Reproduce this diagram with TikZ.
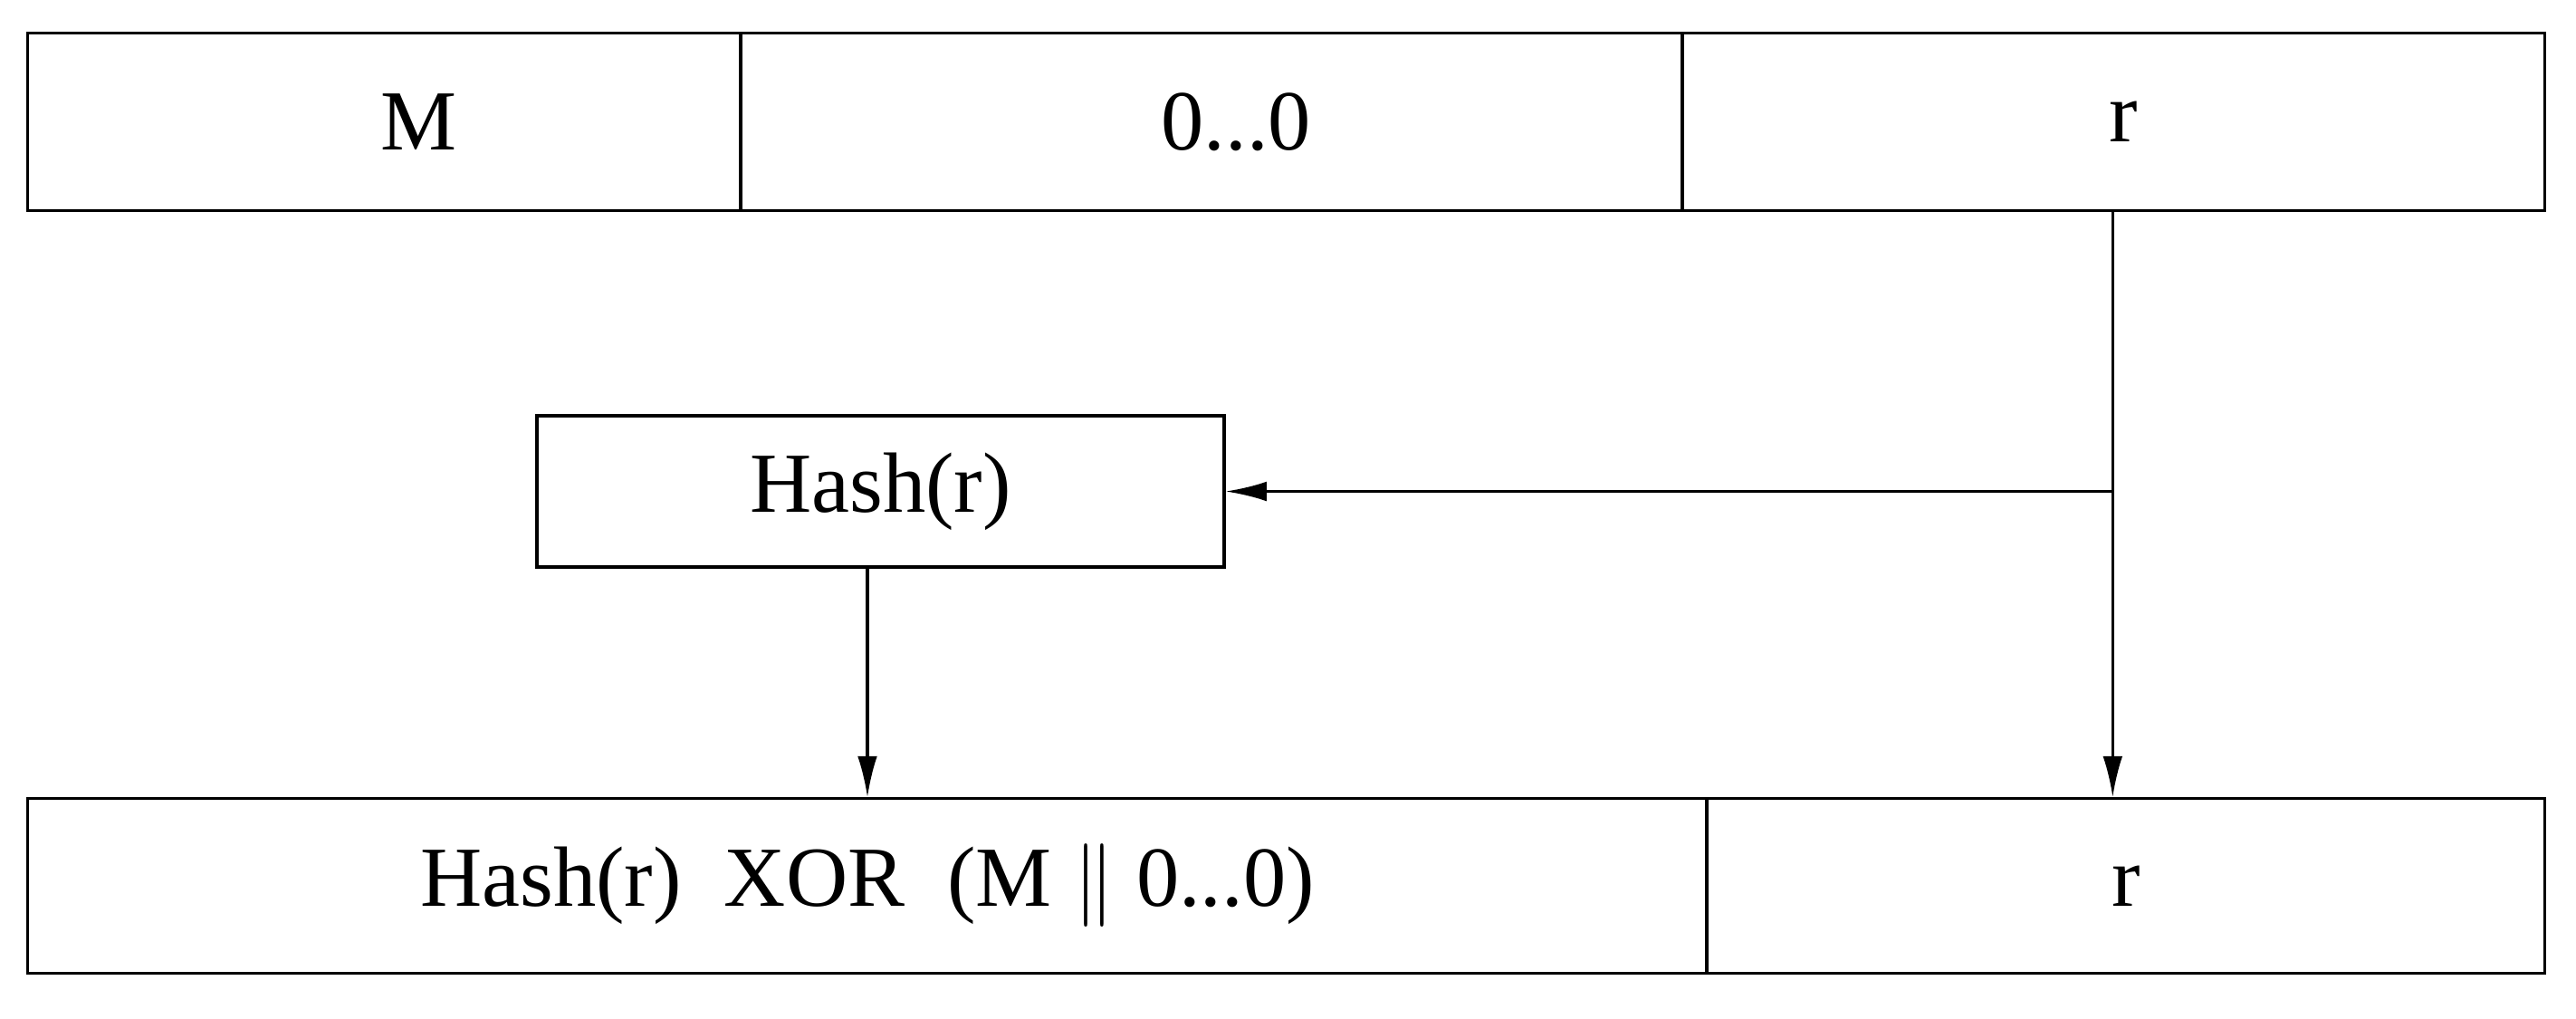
\documentclass[tikz,border=0pt]{standalone}
\usepackage{fontspec}
\setmainfont{Liberation Serif}
\usetikzlibrary{arrows.meta}
\begin{document}
\begin{tikzpicture}[x=0.01cm,y=0.01cm,
  every node/.style={draw=black, line width=0.5pt, inner sep=0pt, font=\fontsize{14.8}{17}\selectfont},
  arr/.style={line width=0.5pt, -{Latex[length=0.25cm,width=0.12cm]}}]
    \useasboundingbox (0,0) rectangle (1568,620);

    \node (M)   [minimum width=4.34cm, minimum height=1.08cm] at (234,546)    {\hspace{0.42cm}M};
    \node (Z)   [minimum width=5.73cm, minimum height=1.08cm] at (737.5,546)  {\hspace{0.3cm}0...0};
    \node (rt)  [minimum width=5.25cm, minimum height=1.08cm] at (1286.5,546) {\hspace{0.12cm}r};

    \node (hash)[minimum width=4.18cm, minimum height=0.92cm] at (536,321)    {Hash(r)};

    \node (xr)  [minimum width=10.22cm, minimum height=1.06cm] at (528,81)    {Hash(r)\ \ XOR\ \ (M $\Vert$ 0...0)\hspace{1.92cm}};
    \node (rb)  [minimum width=5.10cm, minimum height=1.06cm] at (1294,81)    {r\hspace{0.3cm}};

    \coordinate (j) at (1286,322);

    \draw[arr] (j |- rt.south) -- (j |- rb.north);
    \draw[arr] (j |- hash.east) -- (hash.east);
    \draw[arr] ([xshift=-0.08cm]hash.south) -- ([xshift=-0.08cm]hash.south |- xr.north);
\end{tikzpicture}
\end{document}
